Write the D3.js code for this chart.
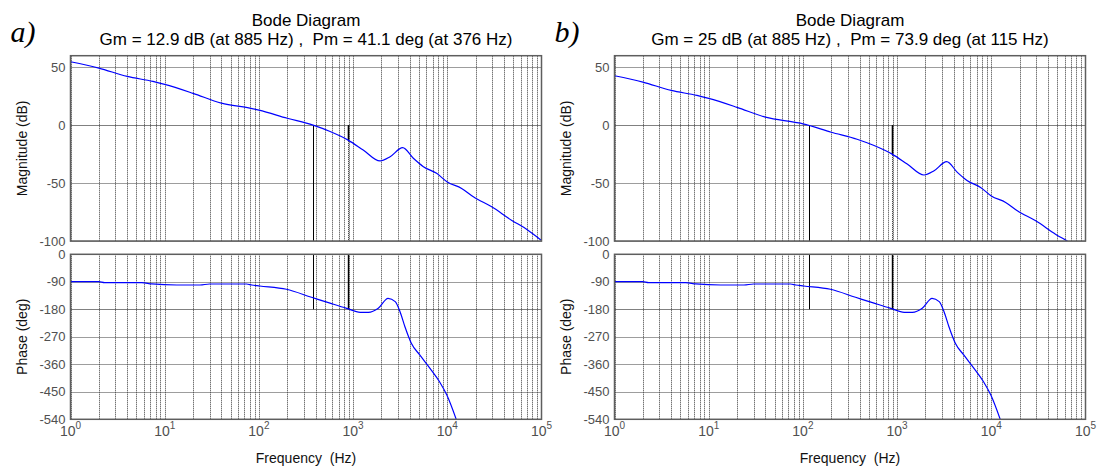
<!DOCTYPE html>
<html>
<head>
<meta charset="utf-8">
<script src="https://cdn.jsdelivr.net/npm/d3@7"></script>
<style>
  html, body { margin: 0; padding: 0; background: #fff; }
  svg { display: block; }
</style>
</head>
<body>
<svg id="chart" width="1102" height="470" font-family="Arial, 'Liberation Sans', sans-serif"></svg>
<script>
// ---------- data ----------
const panelLetters = ["a)", "b)"];
const titleLine1 = "Bode Diagram";
const titleLine2 = [
  "Gm = 12.9 dB (at 885 Hz) ,  Pm = 41.1 deg (at 376 Hz)",
  "Gm = 25 dB (at 885 Hz) ,  Pm = 73.9 deg (at 115 Hz)"
];
const gainMarginDb = [12.9, 25];
const gainCrossHz = [885, 885];
const phaseCrossHz = [376, 115];

const magFreq = [1, 2, 4, 7.5, 10, 20, 40, 80, 100, 200, 376, 570, 885, 1280, 1930, 2470, 3360, 4360, 5570, 7700, 10000, 14200, 18900, 29600, 48000, 70000, 100000];
const magA = [54.8, 49.3, 42.1, 37.8, 35.2, 27.5, 19.0, 14.7, 13.0, 6.0, 0.0, -5.5, -12.9, -21.4, -30.9, -27.2, -19.4, -28.6, -35.8, -41.6, -49.0, -54.6, -61.8, -70.5, -82.0, -90.0, -99.5];
const magB = [42.7, 37.2, 30.0, 25.7, 23.1, 15.4, 6.9, 2.6, 1.2, -6.1, -12.1, -17.6, -25.0, -33.5, -43.0, -39.3, -31.5, -40.7, -47.9, -53.7, -61.1, -66.7, -73.9, -82.6, -94.1, -102.1, -111.6];

const phFreq = [1, 2, 2.3, 5.7, 7.3, 13.4, 23.7, 30, 74, 84, 102, 196, 362, 569, 855, 1190, 1450, 1850, 2350, 2800, 3150, 3550, 4150, 5100, 6550, 8270, 9860, 12500];
const phA = [-89.7, -89.7, -92.9, -92.9, -97.0, -100.5, -100.5, -97.2, -97.2, -100.5, -103.7, -114.5, -140.7, -160.0, -177.0, -189.8, -190.0, -176.8, -144.0, -155.0, -188.0, -237.0, -291.0, -329.5, -373.0, -417.0, -460.0, -542.0];
const phB = [-89.7, -89.7, -92.9, -92.9, -97.0, -100.5, -100.5, -97.2, -97.2, -100.5, -103.7, -114.5, -140.7, -160.0, -177.0, -189.8, -190.0, -176.8, -144.0, -155.0, -188.0, -237.0, -291.0, -329.5, -373.0, -417.0, -460.0, -542.0];

const magTicks = [50, 0, -50, -100];
const phTicks = [0, -90, -180, -270, -360, -450, -540];
const decadeExps = [0, 1, 2, 3, 4, 5];

const magSeries = [magA, magB];
const phSeries = [phA, phB];

// ---------- layout ----------
const svg = d3.select("#chart");
const panelX = [70.5, 614.5];
const plotW = 471;
const magTop = 55.7, magBot = 241;
const phTop = 254.3, phBot = 419.3;
const tickGray = "#505050";
const gridColor = "#3a3a3a";

panelX.forEach((x0, p) => {
  const g = svg.append("g");
  const x = d3.scaleLog().domain([1, 1e5]).range([x0, x0 + plotW]);
  const yM = d3.scaleLinear().domain([-100, 60]).range([magBot, magTop]);
  const yP = d3.scaleLinear().domain([-540, 0]).range([phBot, phTop]);

  const clipM = "clipM" + p, clipP = "clipP" + p;
  const defs = svg.append("defs");
  defs.append("clipPath").attr("id", clipM).append("rect")
    .attr("x", x0).attr("y", magTop).attr("width", plotW).attr("height", magBot - magTop);
  defs.append("clipPath").attr("id", clipP).append("rect")
    .attr("x", x0).attr("y", phTop).attr("width", plotW).attr("height", phBot - phTop);

  // grid frequencies
  const gridF = [];
  for (let d = 0; d < 5; d++) for (let k = 1; k <= 9; k++) gridF.push(k * Math.pow(10, d));

  [[yM, magTop, magBot, magTicks, 0], [yP, phTop, phBot, phTicks, -180]].forEach(([y, top, bot, ticks, ref]) => {
    g.append("g").selectAll("line").data(gridF).join("line")
      .attr("x1", d => Math.round(x(d)) + 0.5).attr("x2", d => Math.round(x(d)) + 0.5)
      .attr("y1", top).attr("y2", bot)
      .attr("stroke", gridColor).attr("stroke-width", 1).attr("stroke-dasharray", "1,1");
    g.append("g").selectAll("line").data(ticks).join("line")
      .attr("x1", x0).attr("x2", x0 + plotW)
      .attr("y1", d => Math.round(y(d)) + 0.5).attr("y2", d => Math.round(y(d)) + 0.5)
      .attr("stroke", d => d === ref ? "#000" : gridColor)
      .attr("stroke-width", 1).attr("stroke-dasharray", "1,1");
    // tick labels
    g.append("g").selectAll("text").data(ticks).join("text")
      .attr("x", x0 - 5).attr("y", d => y(d))
      .attr("dy", "0.35em").attr("text-anchor", "end")
      .attr("font-size", 13).attr("fill", tickGray)
      .text(d => d);
  });

  // margin markers
  const wcp = phaseCrossHz[p], wcg = gainCrossHz[p];
  const lx = f => Math.round(x(f)) + 0.5;
  g.append("line").attr("x1", lx(wcp)).attr("x2", lx(wcp))
    .attr("y1", yM(0)).attr("y2", magBot).attr("stroke", "#000").attr("stroke-width", 1);
  g.append("line").attr("x1", lx(wcg)).attr("x2", lx(wcg))
    .attr("y1", yM(0)).attr("y2", magBot).attr("stroke", "#222").attr("stroke-width", 1).attr("stroke-dasharray", "1,1");
  g.append("line").attr("x1", lx(wcg)).attr("x2", lx(wcg))
    .attr("y1", yM(0)).attr("y2", yM(-gainMarginDb[p])).attr("stroke", "#000").attr("stroke-width", 1.6);
  g.append("line").attr("x1", lx(wcp)).attr("x2", lx(wcp))
    .attr("y1", phTop).attr("y2", yP(-180)).attr("stroke", "#000").attr("stroke-width", 1);
  g.append("line").attr("x1", lx(wcg)).attr("x2", lx(wcg))
    .attr("y1", phTop).attr("y2", yP(-180)).attr("stroke", "#000").attr("stroke-width", 1.4);

  // curves
  const lineM = d3.line().x(d => x(d[0])).y(d => yM(d[1])).curve(d3.curveMonotoneX);
  const lineP = d3.line().x(d => x(d[0])).y(d => yP(d[1])).curve(d3.curveMonotoneX);
  g.append("path").datum(d3.zip(magFreq, magSeries[p]))
    .attr("clip-path", `url(#${clipM})`)
    .attr("d", lineM).attr("fill", "none").attr("stroke", "#0000ff").attr("stroke-width", 1.2);
  g.append("path").datum(d3.zip(phFreq, phSeries[p]))
    .attr("clip-path", `url(#${clipP})`)
    .attr("d", lineP).attr("fill", "none").attr("stroke", "#0000ff").attr("stroke-width", 1.2);

  // axes boxes
  [[magTop, magBot], [phTop, phBot]].forEach(([t, b]) => {
    g.append("rect").attr("x", x0).attr("y", t).attr("width", plotW).attr("height", b - t)
      .attr("fill", "none").attr("stroke", "#5e5e5e").attr("stroke-width", 1.5);
  });

  // x tick labels 10^n
  const xt = g.append("g").selectAll("text").data(decadeExps).join("text")
    .attr("x", d => x(Math.pow(10, d))).attr("y", 436)
    .attr("text-anchor", "middle").attr("fill", tickGray).attr("font-size", 14);
  xt.append("tspan").text("10");
  xt.append("tspan").attr("font-size", 10).attr("dy", -7).text(d => d);

  // axis labels
  const cx = x0 + plotW / 2;
  g.append("text").attr("x", cx).attr("y", 463).attr("text-anchor", "middle")
    .attr("font-size", 14).attr("fill", "#111").attr("xml:space", "preserve").text("Frequency  (Hz)");
  g.append("text").attr("transform", `translate(${x0 - 44},${(magTop + magBot) / 2}) rotate(-90)`)
    .attr("text-anchor", "middle").attr("font-size", 14).attr("fill", "#111").text("Magnitude (dB)");
  g.append("text").attr("transform", `translate(${x0 - 44},${(phTop + phBot) / 2}) rotate(-90)`)
    .attr("text-anchor", "middle").attr("font-size", 14).attr("fill", "#111").text("Phase (deg)");

  // titles
  g.append("text").attr("x", cx).attr("y", 26).attr("text-anchor", "middle")
    .attr("font-size", 17).attr("fill", "#000").text(titleLine1);
  g.append("text").attr("x", cx).attr("y", 45).attr("text-anchor", "middle")
    .attr("font-size", 17).attr("fill", "#000").attr("xml:space", "preserve").text(titleLine2[p]);

  // panel letter
  g.append("text").attr("x", x0 - 60).attr("y", 42)
    .attr("font-family", "'Liberation Serif', 'DejaVu Serif', serif")
    .attr("font-style", "italic").attr("font-size", 30).attr("fill", "#000").text(panelLetters[p]);
});
</script>
</body>
</html>
